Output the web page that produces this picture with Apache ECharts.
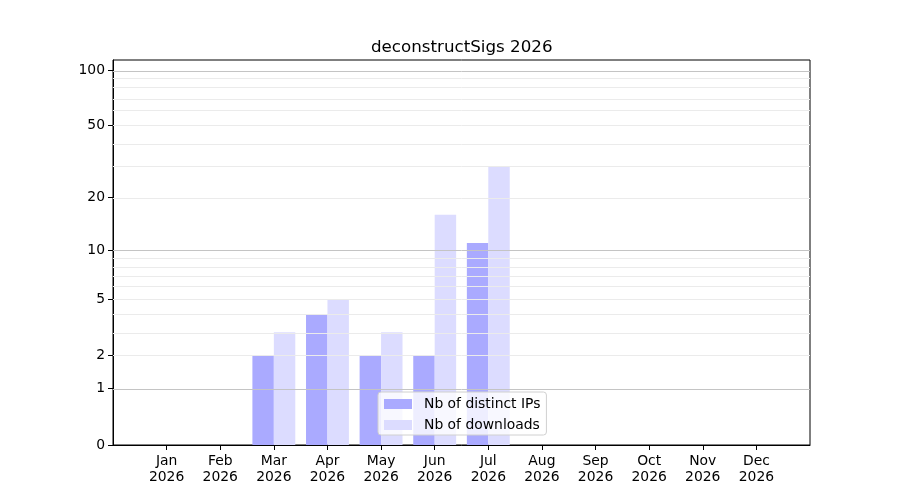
<!DOCTYPE html>
<html>
<head>
<meta charset="utf-8">
<script src="https://cdn.jsdelivr.net/npm/echarts@6/dist/echarts.min.js"></script>
<style>
  html, body { margin: 0; padding: 0; background: #fff; }
  #chart { width: 900px; height: 500px; }
</style>
</head>
<body>
<div id="chart"></div>
<script>
const months = ['Jan', 'Feb', 'Mar', 'Apr', 'May', 'Jun', 'Jul', 'Aug', 'Sep', 'Oct', 'Nov', 'Dec'];
const year = '2026';
const distinctIps = [0, 0, 2, 4, 2, 2, 11, 0, 0, 0, 0, 0];
const downloads = [0, 0, 3, 5, 3, 16, 30, 0, 0, 0, 0, 0];
const yTicks = [0, 1, 2, 5, 10, 20, 50, 100];
const majorGrid = [1, 10, 100];
const minorGrid = [2, 3, 4, 5, 6, 7, 8, 9, 20, 30, 40, 50, 60, 70, 80, 90];

// y is shown on a log10(1 + v) scale
const tf = (v) => Math.log10(1 + v);
const untf = (t) => Math.round(Math.pow(10, t) - 1);

// pad one empty slot on each side so months sit one step in from the frame
const cats = [''].concat(months.map((m) => `${m}\n${year}`), ['']);
const pad = (arr) => [null].concat(arr.map(tf), [null]);

const font = 'DejaVu Sans';
const dom = document.getElementById('chart');
const chart = echarts.init(dom, null, { renderer: 'canvas' });

const gridLines = [];
for (const v of minorGrid) {
  gridLines.push({ yAxis: tf(v), lineStyle: { color: '#ebebeb', width: 1, type: 'solid' } });
}
for (const v of majorGrid) {
  gridLines.push({ yAxis: tf(v), lineStyle: { color: '#c4c4c4', width: 1, type: 'solid' } });
}

const opt = {
  animation: false,
  textStyle: { fontFamily: font },
  title: {
    text: 'deconstructSigs 2026',
    left: 366,
    top: 34,
    textStyle: { fontFamily: font, fontSize: 16.7, fontWeight: 'normal', color: '#000' }
  },
  grid: {
    left: 113,
    right: 90,
    top: 60,
    bottom: 55,
    show: true,
    borderColor: '#000',
    borderWidth: 1,
    backgroundColor: 'transparent'
  },
  legend: {
    orient: 'vertical',
    left: 378,
    top: 392,
    padding: [5, 6, 3, 6],
    itemGap: 7,
    itemWidth: 28,
    itemHeight: 10,
    icon: 'rect',
    borderColor: '#d0d0d0',
    borderWidth: 1,
    borderRadius: 3,
    backgroundColor: 'rgba(255,255,255,0.8)',
    textStyle: { fontFamily: font, fontSize: 13.9, color: '#000', padding: [0, 0, 0, 7] },
    data: ['Nb of distinct IPs', 'Nb of downloads']
  },
  xAxis: {
    type: 'category',
    data: cats,
    boundaryGap: false,
    axisLine: { show: true, lineStyle: { color: '#000', width: 1 } },
    axisTick: {
      show: true,
      length: 5,
      interval: (idx, val) => val !== '',
      lineStyle: { color: '#000' }
    },
    axisLabel: {
      interval: 0,
      margin: 8,
      color: '#000',
      fontFamily: font,
      fontSize: 13.9,
      lineHeight: 16
    },
    splitLine: { show: false }
  },
  yAxis: {
    type: 'value',
    min: 0,
    max: 2.058,
    axisLine: { show: true, lineStyle: { color: '#000', width: 1 } },
    axisTick: {
      show: true,
      length: 5,
      customValues: yTicks.map(tf),
      lineStyle: { color: '#000' }
    },
    axisLabel: {
      margin: 8,
      color: '#000',
      fontFamily: font,
      fontSize: 13.9,
      customValues: yTicks.map(tf),
      formatter: (v) => String(untf(v))
    },
    splitLine: { show: false }
  },
  series: [
    {
      name: 'Nb of distinct IPs',
      type: 'bar',
      barWidth: '40%',
      barGap: '0%',
      itemStyle: { color: '#aaaaff' },
      data: pad(distinctIps)
    },
    {
      name: 'Nb of downloads',
      type: 'bar',
      barWidth: '40%',
      barGap: '0%',
      itemStyle: { color: '#dcdcff' },
      data: pad(downloads),
      markLine: {
        silent: true,
        symbol: 'none',
        label: { show: false },
        z: 5,
        data: gridLines
      }
    }
  ]
};

chart.setOption(opt);
</script>
</body>
</html>
